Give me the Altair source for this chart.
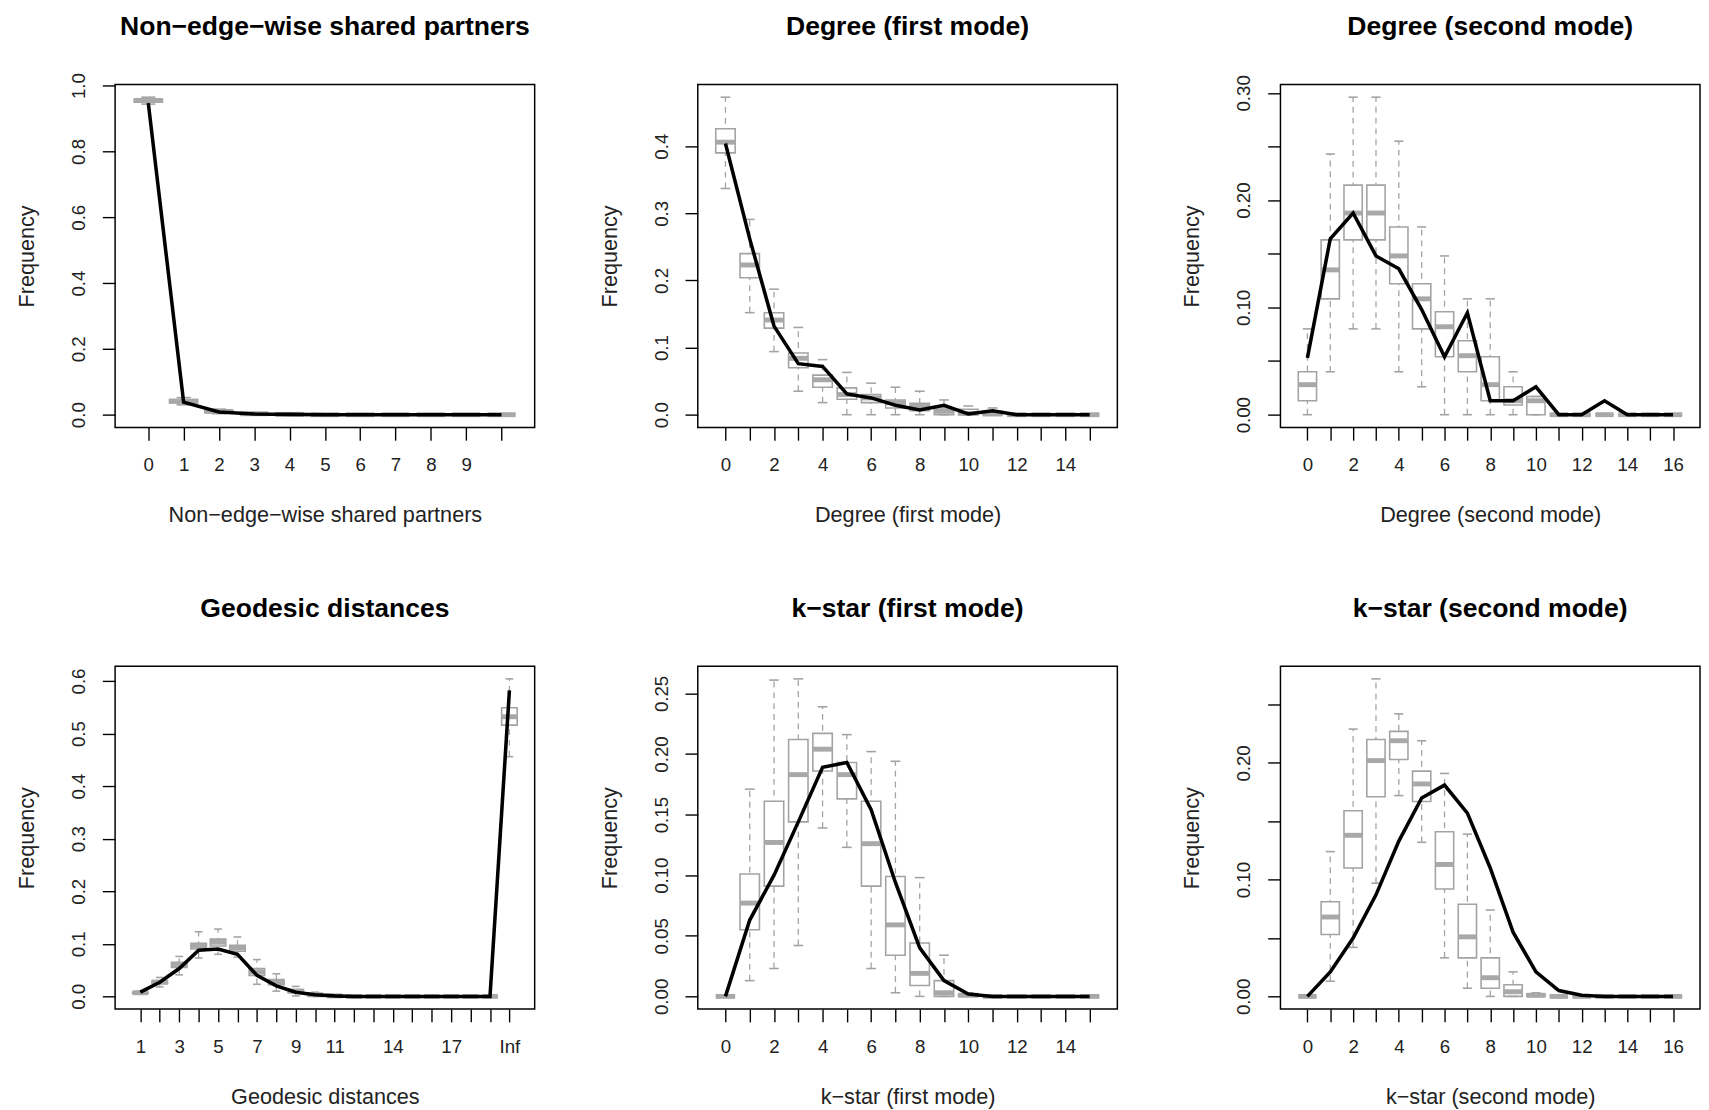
import json
import altair as alt
import pandas as pd

# ---------------- data ----------------
# Panel 1: Non-edge-wise shared partners (11 categories)
NSP_XLABELS = ["0", "1", "2", "3", "4", "5", "6", "7", "8", "9", ""]
NSP_OBS = [0.947, 0.038, 0.008, 0.002, 0.001, 0, 0, 0, 0, 0, 0]
NSP_Q1 = [0.950, 0.036, 0.007, 0.001, 0, 0, 0, 0, 0, 0, 0]
NSP_MED = [0.955, 0.041, 0.010, 0.003, 0.001, 0, 0, 0, 0, 0, 0]
NSP_Q3 = [0.959, 0.046, 0.013, 0.004, 0.002, 0, 0, 0, 0, 0, 0]
NSP_LO = [0.944, 0.030, 0.003, 0, 0, 0, 0, 0, 0, 0, 0]
NSP_HI = [0.965, 0.052, 0.017, 0.006, 0.003, 0, 0, 0, 0, 0, 0]
NSP_YTICKS = [0.0, 0.2, 0.4, 0.6, 0.8, 1.0]
NSP_YLABELS = ["0.0", "0.2", "0.4", "0.6", "0.8", "1.0"]

# Panel 2: Degree (first mode) (16 categories)
DEG1_XLABELS = ["0", "", "2", "", "4", "", "6", "", "8", "", "10", "", "12", "", "14", ""]
DEG1_OBS = [0.404, 0.262, 0.132, 0.076, 0.072, 0.031, 0.025, 0.014, 0.007, 0.014, 0.001, 0.006, 0, 0, 0, 0]
DEG1_Q1 = [0.390, 0.204, 0.129, 0.070, 0.041, 0.023, 0.018, 0.010, 0.006, 0.000, 0.000, 0.000, 0, 0, 0, 0]
DEG1_MED = [0.406, 0.223, 0.141, 0.084, 0.052, 0.030, 0.025, 0.018, 0.013, 0.005, 0.002, 0.001, 0, 0, 0, 0]
DEG1_Q3 = [0.426, 0.240, 0.152, 0.092, 0.059, 0.040, 0.030, 0.022, 0.017, 0.010, 0.008, 0.005, 0, 0, 0, 0]
DEG1_LO = [0.337, 0.152, 0.094, 0.035, 0.018, 0, 0, 0, 0, 0, 0, 0, 0, 0, 0, 0]
DEG1_HI = [0.473, 0.291, 0.187, 0.130, 0.082, 0.063, 0.047, 0.041, 0.035, 0.022, 0.013, 0.010, 0, 0, 0, 0]
DEG1_YTICKS = [0.0, 0.1, 0.2, 0.3, 0.4]
DEG1_YLABELS = ["0.0", "0.1", "0.2", "0.3", "0.4"]

# Panel 3: Degree (second mode) (17 categories)
DEG2_XLABELS = ["0", "", "2", "", "4", "", "6", "", "8", "", "10", "", "12", "", "14", "", "16"]
DEG2_OBS = [0.053, 0.164, 0.188, 0.148, 0.136, 0.098, 0.054, 0.095, 0.013, 0.013, 0.026, 0, 0, 0.013, 0, 0, 0]
DEG2_Q1 = [0.013, 0.108, 0.163, 0.163, 0.122, 0.080, 0.054, 0.040, 0.013, 0.009, 0.000, 0, 0, 0, 0, 0, 0]
DEG2_MED = [0.028, 0.135, 0.188, 0.188, 0.148, 0.108, 0.082, 0.055, 0.028, 0.013, 0.013, 0, 0, 0, 0, 0, 0]
DEG2_Q3 = [0.040, 0.163, 0.214, 0.214, 0.175, 0.122, 0.096, 0.069, 0.054, 0.026, 0.017, 0, 0, 0, 0, 0, 0]
DEG2_LO = [0, 0.040, 0.080, 0.080, 0.040, 0.026, 0, 0, 0, 0, 0, 0, 0, 0, 0, 0, 0]
DEG2_HI = [0.080, 0.243, 0.296, 0.296, 0.255, 0.175, 0.148, 0.108, 0.108, 0.040, 0.017, 0, 0, 0, 0, 0, 0]
DEG2_YTICKS = [0.0, 0.05, 0.10, 0.15, 0.20, 0.25, 0.30]
DEG2_YLABELS = ["0.00", "", "0.10", "", "0.20", "", "0.30"]

# Panel 4: Geodesic distances (1..19 and Inf)
GEO_XLABELS = ["1", "", "3", "", "5", "", "7", "", "9", "", "11", "", "", "14", "", "", "17", "", "", "Inf"]
GEO_OBS = [0.008, 0.027, 0.053, 0.088, 0.090, 0.080, 0.040, 0.020, 0.008, 0.003, 0.001, 0, 0, 0, 0, 0, 0, 0, 0, 0.582]
GEO_Q1 = [0.006, 0.024, 0.055, 0.090, 0.096, 0.086, 0.040, 0.022, 0.007, 0.002, 0, 0, 0, 0, 0, 0, 0, 0, 0, 0.516]
GEO_MED = [0.007, 0.027, 0.060, 0.096, 0.103, 0.092, 0.047, 0.027, 0.010, 0.003, 0.001, 0, 0, 0, 0, 0, 0, 0, 0, 0.532]
GEO_Q3 = [0.008, 0.030, 0.065, 0.101, 0.109, 0.097, 0.053, 0.032, 0.013, 0.005, 0.002, 0, 0, 0, 0, 0, 0, 0, 0, 0.549]
GEO_LO = [0.004, 0.018, 0.041, 0.073, 0.080, 0.075, 0.023, 0.010, 0.001, 0, 0, 0, 0, 0, 0, 0, 0, 0, 0, 0.456]
GEO_HI = [0.010, 0.036, 0.076, 0.123, 0.128, 0.113, 0.070, 0.043, 0.019, 0.008, 0.003, 0, 0, 0, 0, 0, 0, 0, 0, 0.604]
GEO_YTICKS = [0.0, 0.1, 0.2, 0.3, 0.4, 0.5, 0.6]
GEO_YLABELS = ["0.0", "0.1", "0.2", "0.3", "0.4", "0.5", "0.6"]

# Panel 5: k-star (first mode) (16 categories)
KS1_XLABELS = ["0", "", "2", "", "4", "", "6", "", "8", "", "10", "", "12", "", "14", ""]
KS1_OBS = [0, 0.063, 0.100, 0.144, 0.189, 0.193, 0.154, 0.094, 0.040, 0.013, 0.002, 0, 0, 0, 0, 0]
KS1_Q1 = [0, 0.055, 0.091, 0.144, 0.186, 0.163, 0.091, 0.034, 0.009, 0.000, 0, 0, 0, 0, 0, 0]
KS1_MED = [0, 0.077, 0.127, 0.183, 0.204, 0.183, 0.126, 0.059, 0.019, 0.003, 0.001, 0, 0, 0, 0, 0]
KS1_Q3 = [0, 0.101, 0.161, 0.212, 0.217, 0.193, 0.161, 0.099, 0.044, 0.013, 0.002, 0, 0, 0, 0, 0]
KS1_LO = [0, 0.013, 0.023, 0.042, 0.139, 0.123, 0.023, 0.003, 0, 0, 0, 0, 0, 0, 0, 0]
KS1_HI = [0, 0.171, 0.261, 0.262, 0.239, 0.216, 0.202, 0.194, 0.098, 0.034, 0.003, 0, 0, 0, 0, 0]
KS1_YTICKS = [0.0, 0.05, 0.10, 0.15, 0.20, 0.25]
KS1_YLABELS = ["0.00", "0.05", "0.10", "0.15", "0.20", "0.25"]

# Panel 6: k-star (second mode) (17 categories)
KS2_XLABELS = ["0", "", "2", "", "4", "", "6", "", "8", "", "10", "", "12", "", "14", "", "16"]
KS2_OBS = [0, 0.021, 0.050, 0.087, 0.133, 0.170, 0.181, 0.157, 0.110, 0.055, 0.021, 0.005, 0.001, 0, 0, 0, 0]
KS2_Q1 = [0, 0.053, 0.110, 0.171, 0.203, 0.167, 0.092, 0.033, 0.007, 0, 0, 0, 0, 0, 0, 0, 0]
KS2_MED = [0, 0.068, 0.138, 0.202, 0.219, 0.182, 0.113, 0.051, 0.016, 0.004, 0.001, 0, 0, 0, 0, 0, 0]
KS2_Q3 = [0, 0.081, 0.159, 0.220, 0.227, 0.193, 0.141, 0.079, 0.033, 0.010, 0.002, 0, 0, 0, 0, 0, 0]
KS2_LO = [0, 0.013, 0.042, 0.097, 0.172, 0.132, 0.033, 0.007, 0, 0, 0, 0, 0, 0, 0, 0, 0]
KS2_HI = [0, 0.124, 0.229, 0.272, 0.242, 0.219, 0.191, 0.139, 0.074, 0.021, 0.003, 0, 0, 0, 0, 0, 0]
KS2_YTICKS = [0.0, 0.05, 0.10, 0.15, 0.20, 0.25]
KS2_YLABELS = ["0.00", "", "0.10", "", "0.20", ""]

# ---------------- styling ----------------
FONT = "Liberation Sans"
PW, PH = 427, 349
GRAY = "#a3a3a3"
MED_GRAY = "#a8a8a8"
TEXT = "#222222"
LABEL_FS = 19
TITLE_GAP = 23


def char_w(ch):
    return 0.278 if ch == "." else 0.556


def panel(title, xlab, xlabels, yticks, ylabels, q1, med, q3, lo, hi, obs):
    n = len(med)
    idx = list(range(n))
    df = pd.DataFrame({"i": idx, "q1": q1, "med": med, "q3": q3,
                       "lo": lo, "hi": hi, "obs": obs})
    m = max(max(hi), max(obs), max(q3))
    ylo, yhi = -0.04 * m, 1.04 * m
    xs = alt.Scale(domain=[-0.5 - 0.04 * n, n - 0.5 + 0.04 * n], nice=False, zero=False)
    ys = alt.Scale(domain=[ylo, yhi], nice=False, zero=False)
    step = yticks[1] - yticks[0]

    # how far the rotated top y label sticks out above the plot (title sits above that)
    overflow = 0.0
    for v, lab in zip(yticks, ylabels):
        if lab:
            half = sum(char_w(c) for c in lab) * LABEL_FS / 2
            dist = (yhi - v) / (yhi - ylo) * PH
            overflow = max(overflow, half - dist)

    x_axis = alt.Axis(orient="bottom", values=idx,
                      labelExpr=json.dumps(xlabels) + "[round(datum.value)]",
                      title=xlab, labelPadding=16, titlePadding=31,
                      labelOverlap=False)
    y_axis = alt.Axis(orient="left", values=yticks,
                      labelExpr=json.dumps(ylabels) + "[round(datum.value/" + repr(step) + ")]",
                      title="Frequency", labelAngle=270, labelAlign="center",
                      labelBaseline="alphabetic", labelPadding=18,
                      titlePadding=32, labelOverlap=False)

    base = alt.Chart(df).transform_calculate(
        xl="datum.i - 0.4", xr="datum.i + 0.4",
        cl="datum.i - 0.2", cr="datum.i + 0.2")

    whisk = base.mark_rule(color=GRAY, strokeDash=[6, 5], strokeWidth=1.3).encode(
        x=alt.X("i:Q", scale=xs, axis=x_axis),
        y=alt.Y("lo:Q", scale=ys, axis=y_axis),
        y2="hi:Q")
    box = base.mark_rect(fill="white", stroke=GRAY, strokeWidth=1.6).encode(
        x=alt.X("xl:Q", scale=xs, axis=None), x2="xr:Q",
        y=alt.Y("q1:Q", scale=ys, axis=None), y2="q3:Q")
    cap_lo = base.mark_rule(color=GRAY, strokeWidth=1.6).encode(
        x=alt.X("cl:Q", scale=xs, axis=None), x2="cr:Q",
        y=alt.Y("lo:Q", scale=ys, axis=None))
    cap_hi = base.mark_rule(color=GRAY, strokeWidth=1.6).encode(
        x=alt.X("cl:Q", scale=xs, axis=None), x2="cr:Q",
        y=alt.Y("hi:Q", scale=ys, axis=None))
    med_l = base.mark_rule(color=MED_GRAY, strokeWidth=5).encode(
        x=alt.X("xl:Q", scale=xs, axis=None), x2="xr:Q",
        y=alt.Y("med:Q", scale=ys, axis=None))
    obs_l = base.mark_line(color="black", strokeWidth=3.6).encode(
        x=alt.X("i:Q", scale=xs, axis=None),
        y=alt.Y("obs:Q", scale=ys, axis=None))

    return alt.layer(whisk, box, cap_lo, cap_hi, med_l, obs_l).resolve_axis(
        x="independent", y="independent"
    ).properties(
        width=PW, height=PH,
        title=alt.TitleParams(title, anchor="middle", frame="group",
                              baseline="alphabetic",
                              offset=TITLE_GAP - max(0.0, overflow)))


p1 = panel("Non\u2212edge\u2212wise shared partners", "Non\u2212edge\u2212wise shared partners",
           NSP_XLABELS, NSP_YTICKS, NSP_YLABELS,
           NSP_Q1, NSP_MED, NSP_Q3, NSP_LO, NSP_HI, NSP_OBS)
p2 = panel("Degree (first mode)", "Degree (first mode)",
           DEG1_XLABELS, DEG1_YTICKS, DEG1_YLABELS,
           DEG1_Q1, DEG1_MED, DEG1_Q3, DEG1_LO, DEG1_HI, DEG1_OBS)
p3 = panel("Degree (second mode)", "Degree (second mode)",
           DEG2_XLABELS, DEG2_YTICKS, DEG2_YLABELS,
           DEG2_Q1, DEG2_MED, DEG2_Q3, DEG2_LO, DEG2_HI, DEG2_OBS)
p4 = panel("Geodesic distances", "Geodesic distances",
           GEO_XLABELS, GEO_YTICKS, GEO_YLABELS,
           GEO_Q1, GEO_MED, GEO_Q3, GEO_LO, GEO_HI, GEO_OBS)
p5 = panel("k\u2212star (first mode)", "k\u2212star (first mode)",
           KS1_XLABELS, KS1_YTICKS, KS1_YLABELS,
           KS1_Q1, KS1_MED, KS1_Q3, KS1_LO, KS1_HI, KS1_OBS)
p6 = panel("k\u2212star (second mode)", "k\u2212star (second mode)",
           KS2_XLABELS, KS2_YTICKS, KS2_YLABELS,
           KS2_Q1, KS2_MED, KS2_Q3, KS2_LO, KS2_HI, KS2_OBS)

chart = alt.concat(
    p1, p2, p3, p4, p5, p6, columns=3,
    spacing=alt.RowColnumber(row=243, column=166), bounds="flush",
).properties(
    padding={"left": 7, "top": -5, "right": 0, "bottom": 0},
    background="white",
).configure_view(
    stroke="black", strokeWidth=1.5
).configure_title(
    font=FONT, fontSize=27, fontWeight="bold", color="black"
).configure_axis(
    grid=False, domain=False, ticks=True, tickColor="black", tickWidth=1.4,
    tickSize=13, labelFont=FONT, labelFontSize=LABEL_FS, labelColor=TEXT,
    titleFont=FONT, titleFontSize=22, titleFontWeight="normal", titleColor=TEXT,
)

chart.save("out.html", embed_options={"renderer": "svg", "actions": False})
